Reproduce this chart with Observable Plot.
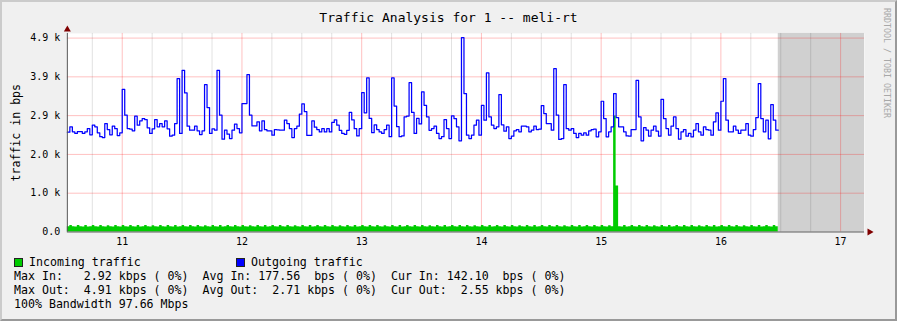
<!DOCTYPE html>
<html><head><meta charset="utf-8">
<script src="https://cdn.jsdelivr.net/npm/d3@7"></script>
<script src="https://cdn.jsdelivr.net/npm/@observablehq/plot@0.6"></script>
<style>
body{margin:0;background:#fff;}
#wrap{position:relative;width:897px;height:321px;box-sizing:border-box;background:#f0f0f0;border-style:solid;border-width:2px;border-color:#cbcbcb #999 #999 #cbcbcb;overflow:hidden;font-family:"DejaVu Sans Mono",monospace;}
#chart{position:absolute;left:-2px;top:-2px;}
#title{position:absolute;left:-2px;top:8px;width:897px;text-align:center;font-size:13px;color:#000;}
#mark{position:absolute;left:880px;top:6px;writing-mode:vertical-rl;font-size:8.3px;color:#a8a8a8;}
#legend{position:absolute;left:12px;top:253px;font-size:11.6px;line-height:14px;white-space:pre;color:#000;}
.sw{display:inline-block;width:7px;height:7px;border:1px solid #222;vertical-align:-1px;margin-right:6px}
</style></head><body>
<div id="wrap"><div id="chart"></div><div id="title"></div><div id="mark"></div><div id="legend"></div></div>
<script>
const titleText = "Traffic Analysis for 1 -- meli-rt";
const yAxisLabel = "traffic in bps";
const watermark = "RRDTOOL / TOBI OETIKER";

// time axis: day of month, 30-minute samples
const startDay = 10.5417;
const stepDays = 1 / 48;
const xMax = 17.2;
const xTicks = [11, 12, 13, 14, 15, 16, 17];
const xMinor = [10.75, 11.25, 11.5, 11.75, 12.25, 12.5, 12.75, 13.25, 13.5, 13.75, 14.25, 14.5, 14.75, 15.25, 15.5, 15.75, 16.25, 16.5, 16.75, 17.25].filter(d => d < xMax);
const yMax = 5000;
const yTicks = [0, 976.5625, 1953.125, 2929.6875, 3906.25, 4882.8125];
const yLabels = ["0.0", "1.0 k", "2.0 k", "2.9 k", "3.9 k", "4.9 k"];

// Outgoing traffic (bps)
const outgoing = [
2513,2647,2521,2480,2530,2530,2480,2521,2605,2446,2689,2647,2496,2400,2379,2731,2580,2446,2664,2600,2429,2496,3594,
2940,2605,2588,2547,2915,2689,2798,2857,2832,2622,2480,2597,2832,2647,2731,2647,2798,2597,2412,2437,2731,3862,2480,
4071,3502,2664,2563,2563,2664,2547,2454,2547,3711,3133,2480,2597,2563,4071,2940,2337,2563,2463,2353,2563,2714,2605,2496,3233,3233,3962,
2940,2670,2670,2775,2547,2798,2580,2547,2547,2437,2580,2572,2563,2563,2815,2731,2605,2379,2605,2664,2966,3225,3032,
2430,2430,2800,2640,2580,2520,2600,2520,2600,2520,2760,2820,2690,2560,2480,2460,2560,3010,2820,2600,2420,2600,
3510,3000,3880,2860,2500,2700,2580,2520,2480,2580,2690,2400,3880,3170,2650,2400,2420,2900,2920,3760,3010,2480,2860,2720,3530,
3191,2898,2560,2605,2664,2480,2353,2400,2832,2605,2353,2924,2857,2647,2295,
4892,3485,2437,2353,2437,2689,2815,2437,3191,2815,4004,2898,2689,2605,2647,3460,
2700,2538,2647,2353,2412,2547,2580,2521,2664,2664,2647,2521,2563,2664,2580,2588,3183,2982,2731,2731,2563,4113,2940,2330,2353,3711,
2600,2563,2605,2480,2379,2480,2437,2496,2437,2547,2580,2588,2396,2521,
3292,2857,2396,2521,2647,3485,2882,2647,2647,2521,2420,2412,2580,2580,3820,2898,2295,2630,2563,2412,2563,2664,2538,2412,3342,
2857,2605,2437,2664,2898,2605,2337,2521,2580,2412,2480,2396,2563,2731,2521,2437,2647,2580,2563,2437,2773,2999,2563,
3292,3862,2815,2521,2521,2664,2563,2480,2563,2563,2731,2437,2412,2580,2882,3736,2857,2521,2815,2345,3208,2815,2563
];

// Incoming traffic (bps)
const incoming = [
130,160,130,125,160,130,125,160,125,130,160,130,125,160,130,125,155,130,125,160,130,125,160,130,
125,160,130,125,160,125,130,160,130,125,155,130,125,160,130,125,160,130,125,160,125,130,160,130,
125,160,130,125,160,130,125,155,130,125,160,130,125,160,125,130,160,130,125,160,130,125,160,130,
125,155,130,125,160,130,125,160,125,130,160,130,125,160,130,125,160,130,125,155,130,125,160,130,
125,160,125,130,160,130,125,160,130,125,160,130,125,155,130,125,160,130,125,160,125,130,160,130,
125,160,130,125,160,130,125,155,130,125,160,130,125,160,125,130,160,130,125,160,130,125,160,130,
125,155,130,125,160,130,125,160,125,130,160,130,125,160,130,125,160,130,125,155,130,125,160,130,
125,160,125,130,160,130,125,160,130,125,160,130,125,155,130,125,160,130,125,160,125,130,160,130,
125,160,130,125,160,130,125,155,130,125,160,130,125,160,125,130,160,130,125,160,130,125,160,130,
125,155,130,2920,1160,130,125,160,125,130,160,130,125,160,130,125,160,130,125,155,130,125,160,130,
125,160,125,130,160,130,125,160,130,125,160,130,125,155,130,125,160,130,125,160,125,130,160,130,
125,160,130,125,160,130,125,155,130,125,160,130,125,160,125,130,160,130,125,160,130
];

const legendLines = [
  "Max In:   2.92 kbps ( 0%)  Avg In: 177.56  bps ( 0%)  Cur In: 142.10  bps ( 0%)",
  "Max Out:  4.91 kbps ( 0%)  Avg Out:  2.71 kbps ( 0%)  Cur Out:  2.55 kbps ( 0%)",
  "100% Bandwidth 97.66 Mbps"
];
const series = [{name: "Incoming traffic", color: "#00cc00"}, {name: "Outgoing traffic", color: "#0000ff"}];

const rows = outgoing.map((v, i) => ({t: startDay + i * stepDays, out: v, inc: incoming[i]}));
const lastT = rows[rows.length - 1].t + stepDays;
const steps = rows.concat([{t: lastT, out: outgoing[outgoing.length - 1], inc: incoming[incoming.length - 1]}]);

const plot = Plot.plot({
  width: 897, height: 250,
  marginLeft: 67, marginRight: 31, marginTop: 33, marginBottom: 18,
  style: {background: "transparent", fontFamily: "DejaVu Sans Mono", fontSize: "10px", color: "#000", overflow: "visible"},
  x: {domain: [startDay, xMax], axis: null},
  y: {domain: [0, yMax], axis: null},
  marks: [
    Plot.frame({fill: "#fff", stroke: "none"}),
    Plot.rect([{a: lastT, b: xMax}], {x1: "a", x2: "b", y1: 0, y2: yMax, fill: "#d0d0d0"}),
    Plot.ruleX(xMinor, {stroke: "#000", strokeOpacity: 0.12}),
    Plot.ruleX(xTicks, {stroke: "#f00", strokeOpacity: 0.25}),
    Plot.ruleY(yTicks.slice(1), {stroke: "#f00", strokeOpacity: 0.25}),
    Plot.areaY(steps, {x: "t", y: "inc", curve: "step-after", fill: series[0].color}),
    Plot.line(steps, {x: "t", y: "out", curve: "step-after", stroke: series[1].color, strokeWidth: 1.25}),
    Plot.ruleY([0], {stroke: "#555"}),
    Plot.ruleX([startDay], {y1: 0, y2: yMax, stroke: "#555"}),
    Plot.dot([{x: xMax, y: 0}], {x: "x", y: "y", symbol: "triangle", rotate: 90, r: 2.6, fill: "#800000", stroke: "none", dx: 5}),
    Plot.dot([{x: startDay, y: yMax}], {x: "x", y: "y", symbol: "triangle", r: 2.6, fill: "#800000", stroke: "none", dy: -4}),
    Plot.axisX(xTicks, {tickSize: 0, tickPadding: 6, tickFormat: d => String(d), fontSize: 10}),
    Plot.axisY(yTicks, {tickSize: 0, tickPadding: 7, tickFormat: d => yLabels[yTicks.indexOf(d)], fontSize: 10}),
    Plot.text([yAxisLabel], {frameAnchor: "left", textAnchor: "middle", rotate: -90, dx: -51, fontSize: 11.6})
  ]
});
document.getElementById("chart").appendChild(plot);
document.getElementById("title").textContent = titleText;
document.getElementById("mark").textContent = watermark;

const leg = document.getElementById("legend");
const l1 = document.createElement("div");
series.forEach((s, k) => {
  const sp = document.createElement("span");
  sp.style.display = "inline-block";
  sp.style.width = k === 0 ? "222px" : "auto";
  const sw = document.createElement("span");
  sw.className = "sw"; sw.style.background = s.color;
  sp.appendChild(sw);
  sp.appendChild(document.createTextNode(s.name));
  l1.appendChild(sp);
});
leg.appendChild(l1);
legendLines.forEach(t => { const d = document.createElement("div"); d.textContent = t; leg.appendChild(d); });
</script></body></html>
